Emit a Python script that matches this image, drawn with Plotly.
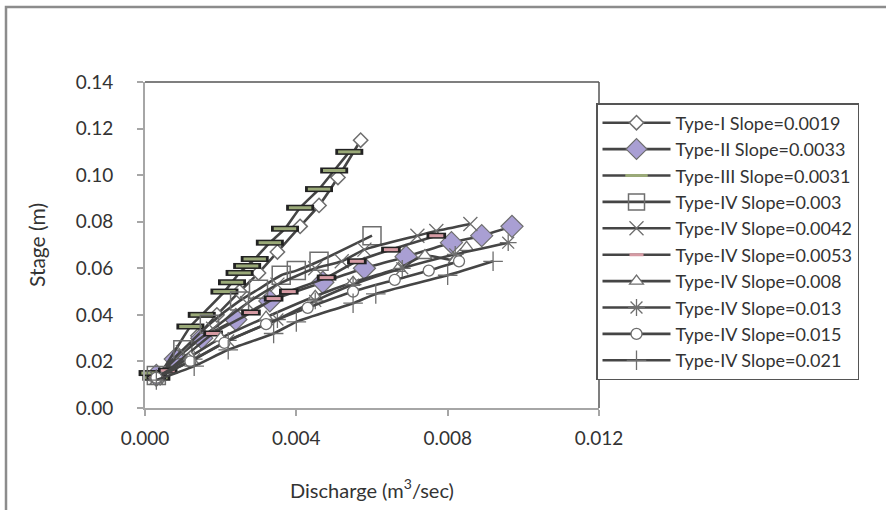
import plotly.graph_objects as go

# ---- data ----
names = ["Type-I Slope=0.0019", "Type-II Slope=0.0033", "Type-III Slope=0.0031",
         "Type-IV Slope=0.003", "Type-IV Slope=0.0042", "Type-IV Slope=0.0053",
         "Type-IV Slope=0.008", "Type-IV Slope=0.013", "Type-IV Slope=0.015",
         "Type-IV Slope=0.021"]

t1_x = [0.0004, 0.0009, 0.0014, 0.0019, 0.0025, 0.0030, 0.0035, 0.0041, 0.0046, 0.0051, 0.0057]
t1_y = [0.013, 0.022, 0.031, 0.040, 0.050, 0.058, 0.067, 0.078, 0.087, 0.099, 0.115]

t2_x = [0.0003, 0.0008, 0.0015, 0.0024, 0.0033, 0.0047, 0.0058, 0.0069, 0.0081, 0.0089, 0.0097]
t2_y = [0.014, 0.021, 0.030, 0.038, 0.046, 0.054, 0.060, 0.065, 0.071, 0.074, 0.078]

t3_x = [0.0002, 0.0003, 0.0012, 0.0015, 0.0021, 0.0023, 0.0025, 0.0027, 0.0029, 0.0033, 0.0037, 0.0041, 0.0046, 0.0050, 0.0054]
t3_y = [0.015, 0.013, 0.035, 0.040, 0.050, 0.054, 0.058, 0.061, 0.064, 0.071, 0.077, 0.086, 0.094, 0.102, 0.110]

s003_x = [0.0003, 0.0010, 0.0017, 0.0025, 0.0030, 0.0036, 0.0040, 0.0046, 0.0060]
s003_y = [0.014, 0.025, 0.036, 0.046, 0.051, 0.057, 0.059, 0.063, 0.074]

s0042_x = [0.0003, 0.0010, 0.0018, 0.0027, 0.0035, 0.0045, 0.0052, 0.0058, 0.0072, 0.0077, 0.0086]
s0042_y = [0.013, 0.024, 0.034, 0.045, 0.053, 0.060, 0.063, 0.068, 0.074, 0.076, 0.079]

s0053_x = [0.0003, 0.0006, 0.0018, 0.0028, 0.0034, 0.0038, 0.0048, 0.0056, 0.0065, 0.0077]
s0053_y = [0.013, 0.016, 0.032, 0.041, 0.047, 0.050, 0.056, 0.063, 0.068, 0.074]

s008_x = [0.0003, 0.0012, 0.0020, 0.0032, 0.0045, 0.0055, 0.0067, 0.0074, 0.0082, 0.0085]
s008_y = [0.013, 0.022, 0.030, 0.039, 0.048, 0.054, 0.060, 0.0655, 0.0636, 0.069]

s013_x = [0.0003, 0.0013, 0.0022, 0.0035, 0.0045, 0.0055, 0.0068, 0.0082, 0.0096]
s013_y = [0.013, 0.021, 0.029, 0.038, 0.046, 0.053, 0.060, 0.066, 0.071]

s015_x = [0.0003, 0.0012, 0.0021, 0.0032, 0.0043, 0.0055, 0.0066, 0.0075, 0.0083]
s015_y = [0.013, 0.020, 0.028, 0.036, 0.043, 0.050, 0.055, 0.059, 0.063]

s021_x = [0.0003, 0.0013, 0.0022, 0.0034, 0.0040, 0.0055, 0.0061, 0.0080, 0.0092]
s021_y = [0.012, 0.018, 0.025, 0.032, 0.037, 0.045, 0.049, 0.057, 0.063]

x_ticks = [0.0, 0.004, 0.008, 0.012]
x_tick_text = ["0.000", "0.004", "0.008", "0.012"]
y_ticks = [0.0, 0.02, 0.04, 0.06, 0.08, 0.10, 0.12, 0.14]
y_tick_text = ["0.00", "0.02", "0.04", "0.06", "0.08", "0.10", "0.12", "0.14"]

# ---- styling ----
LINE = dict(color="#454545", width=2.6, shape="spline", smoothing=0.6)
MK_GRAY = "#6e6e6e"
FONT = "Lato, 'Open Sans', sans-serif"
TXT = "#333333"

series = [
    (t1_x, t1_y, dict(symbol="diamond", size=11, color="white", line=dict(color=MK_GRAY, width=1.5)), None),
    (t2_x, t2_y, dict(symbol="diamond", size=17, color="#a99fd3", line=dict(color=MK_GRAY, width=1.2)), None),
    (t3_x, t3_y, dict(symbol="line-ew", size=16, color="#9aa978", line=dict(color="#9aa978", width=3)), 20),
    (s003_x, s003_y, dict(symbol="square-open", size=18, color=MK_GRAY, line=dict(color=MK_GRAY, width=1.5)), None),
    (s0042_x, s0042_y, dict(symbol="x-thin-open", size=14, color=MK_GRAY, line=dict(color=MK_GRAY, width=1.3)), None),
    (s0053_x, s0053_y, dict(symbol="line-ew", size=10, color="#d59aa3", line=dict(color="#d59aa3", width=3)), 14),
    (s008_x, s008_y, dict(symbol="triangle-up", size=12, color="white", line=dict(color=MK_GRAY, width=1.3)), None),
    (s013_x, s013_y, dict(symbol="asterisk-open", size=14, color=MK_GRAY, line=dict(color=MK_GRAY, width=1.3)), None),
    (s015_x, s015_y, dict(symbol="circle", size=11, color="white", line=dict(color=MK_GRAY, width=1.3)), None),
    (s021_x, s021_y, dict(symbol="cross-thin-open", size=14, color=MK_GRAY, line=dict(color=MK_GRAY, width=1.3)), None),
]

fig = go.Figure()
for name, (xs, ys, mk, outline) in zip(names, series):
    fig.add_trace(go.Scatter(x=xs, y=ys, mode="lines+markers", name=name,
                             line=LINE, marker=mk, cliponaxis=False))
    if outline:
        # dark outline behind bar-shaped markers
        fig.add_trace(go.Scatter(x=xs, y=ys, mode="markers", showlegend=False, hoverinfo="skip",
                                 marker=dict(symbol="line-ew", size=outline, color="#222222",
                                             line=dict(color="#222222", width=6)),
                                 cliponaxis=False))
        fig.add_trace(go.Scatter(x=xs, y=ys, mode="markers", showlegend=False, hoverinfo="skip",
                                 marker=mk, cliponaxis=False))

fig.update_layout(
    width=886, height=510,
    margin=dict(l=145, r=287, t=82, b=102),
    paper_bgcolor="white", plot_bgcolor="white",
    font=dict(family=FONT, size=19, color=TXT),
    showlegend=True,
    legend=dict(x=(596 - 145) / 454, xanchor="left", y=(408 - 103) / 326, yanchor="top",
                bordercolor="#555555", borderwidth=1.5, bgcolor="white",
                font=dict(family=FONT, size=18, color=TXT),
                itemwidth=68, tracegroupgap=0),
)
fig.update_xaxes(range=[0, 0.012], tickvals=x_ticks, ticktext=x_tick_text,
                 showgrid=False, zeroline=False, showline=True, linecolor="#a6a6a6", linewidth=2,
                 ticks="outside", ticklen=6, tickcolor="#a6a6a6", tickwidth=1.5,
                 ticklabelstandoff=6,
                 title=dict(text="Discharge (m<sup>3</sup>/sec)", font=dict(size=20), standoff=36),
                 tickfont=dict(size=19))
fig.update_yaxes(range=[0, 0.14], tickvals=y_ticks, ticktext=y_tick_text,
                 showgrid=False, zeroline=False, showline=True, linecolor="#a6a6a6", linewidth=2,
                 ticks="outside", ticklen=6, tickcolor="#a6a6a6", tickwidth=1.5,
                 ticklabelstandoff=20,
                 title=dict(text="Stage (m)", font=dict(size=21), standoff=24),
                 tickfont=dict(size=19))

# top and right frame of the plot area, and the outer chart border
fig.add_shape(type="line", xref="paper", yref="paper", x0=0, x1=1, y0=1, y1=1,
              line=dict(color="#555555", width=1.5))
fig.add_shape(type="line", xref="paper", yref="paper", x0=1, x1=1, y0=0, y1=1,
              line=dict(color="#555555", width=1.5))
fig.add_shape(type="rect", xref="paper", yref="paper",
              x0=(6 - 145) / 454, x1=(900 - 145) / 454,
              y0=(408 - 520) / 326, y1=(408 - 7) / 326,
              line=dict(color="#8c8c8c", width=2.5), layer="below")

fig.write_html("out.html", config={"displayModeBar": False},
               post_script="document.body.style.margin='0';document.body.style.overflow='hidden';")
